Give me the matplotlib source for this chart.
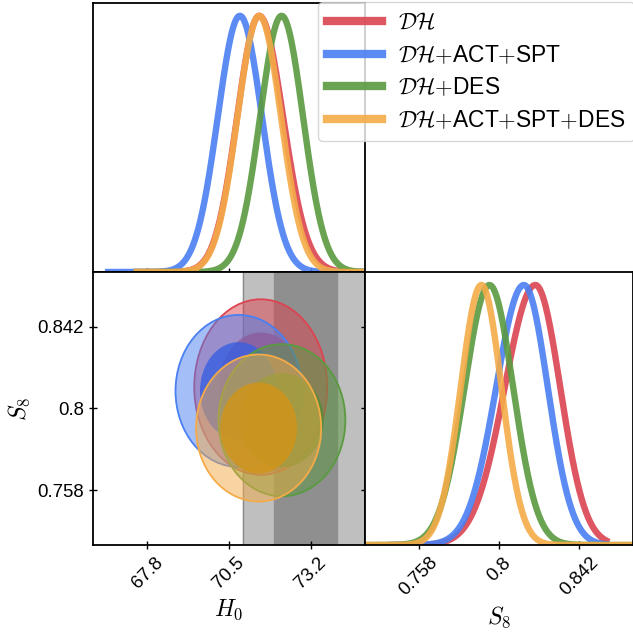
import numpy as np
import matplotlib.pyplot as plt
from matplotlib.patches import Ellipse
from matplotlib.lines import Line2D

plt.rcParams['font.family'] = ['Liberation Sans', 'DejaVu Sans']
plt.rcParams['mathtext.fontset'] = 'cm'

# datasets
labels = [r'$\mathcal{DH}$', r'$\mathcal{DH}$$+$ACT$+$SPT', r'$\mathcal{DH}$$+$DES',
          r'$\mathcal{DH}$$+$ACT$+$SPT$+$DES']
colors = ['#db4450', '#4a7ff2', '#5a9a40', '#f4ab48']
inner_colors = ['#cf3a48', '#3a60e0', '#4e8c36', '#d29418']

# 1D marginals: peak and left/right widths, sampled range
h0_peak = [71.50, 70.86, 72.24, 71.50]
h0_sig_lo = [0.73, 0.73, 0.71, 0.72]
h0_sig_hi = [0.79, 0.73, 0.71, 0.72]
h0_lo = [67.45, 66.5, 67.45, 67.45]
h0_hi = [75.0, 75.0, 75.0, 75.0]
s8_peak = [0.819, 0.813, 0.795, 0.7908]
s8_sig_lo = [0.016, 0.0145, 0.0130, 0.0108]
s8_sig_hi = [0.013, 0.0125, 0.0124, 0.0105]
s8_lo = [0.744, 0.744, 0.730, 0.730]
s8_hi = [0.856, 0.856, 0.870, 0.870]

# 2D contours: centre, half widths of 68% and 95% regions
c_h0 = [71.55, 70.82, 72.25, 71.48]
c_s8 = [0.811, 0.809, 0.794, 0.790]
w68_h0 = [1.38, 1.28, 1.38, 1.27]
w68_s8 = [0.028, 0.025, 0.0242, 0.0233]
w95_h0 = [2.20, 2.09, 2.10, 2.07]
w95_s8 = [0.045, 0.039, 0.039, 0.0377]

# SH0ES band
shoes_h0 = 73.04
shoes_err = 1.04

h0_range = [66.0, 75.0]
s8_range = [0.730, 0.870]
h0_ticks = [67.8, 70.5, 73.2]
h0_ticklabels = ['67.8', '70.5', '73.2']
s8_ticks = [0.758, 0.8, 0.842]
s8_ticklabels = ['0.758', '0.8', '0.842']


def split_gauss(x, m, slo, shi):
    s = np.where(x < m, slo, shi)
    return np.exp(-0.5 * ((x - m) / s) ** 2)


W = 633.0
fig = plt.figure(figsize=(6.33, 6.33), dpi=100)
ax_top = fig.add_axes([93 / W, 1 - 272 / W, 272 / W, 269 / W])
ax_2d = fig.add_axes([93 / W, 1 - 545 / W, 272 / W, 273 / W])
ax_s8 = fig.add_axes([365 / W, 1 - 545 / W, 268 / W, 273 / W])

tick_kw = dict(direction='inout', length=6, width=1, labelsize=13.4)

# H0 1D
for i in range(4):
    x = np.linspace(h0_lo[i], h0_hi[i], 600)
    ax_top.plot(x, split_gauss(x, h0_peak[i], h0_sig_lo[i], h0_sig_hi[i]),
                color=colors[i], lw=4.6, alpha=0.9)
ax_top.set_xlim(h0_range)
ax_top.set_ylim(0, 1.05)
ax_top.set_xticks(h0_ticks)
ax_top.set_xticklabels([])
ax_top.set_yticks([])
ax_top.tick_params(**tick_kw)

# S8 1D
for i in range(4):
    x = np.linspace(s8_lo[i], s8_hi[i], 600)
    ax_s8.plot(x, split_gauss(x, s8_peak[i], s8_sig_lo[i], s8_sig_hi[i]),
               color=colors[i], lw=4.6, alpha=0.9)
ax_s8.set_xlim(s8_range)
ax_s8.set_ylim(0, 1.05)
ax_s8.set_xticks(s8_ticks)
ax_s8.set_xticklabels(s8_ticklabels, rotation=45, ha='center', va='top')
ax_s8.set_yticks([])
ax_s8.tick_params(**tick_kw)
ax_s8.set_xlabel(r'$S_8$', fontsize=17)

# 2D panel
ax_2d.axvspan(shoes_h0 - 2 * shoes_err, shoes_h0 + 2 * shoes_err,
              color='#bfbfbf', zorder=0)
ax_2d.axvline(shoes_h0 - 2 * shoes_err, color='#8a8a8a', lw=1, zorder=0)
ax_2d.axvspan(shoes_h0 - shoes_err, shoes_h0 + shoes_err, color='#8f8f8f', zorder=0)
for i in range(4):
    ax_2d.add_patch(Ellipse((c_h0[i], c_s8[i]), 2 * w95_h0[i], 2 * w95_s8[i],
                            facecolor=colors[i], alpha=0.5, edgecolor='none', zorder=2 + i))
    ax_2d.add_patch(Ellipse((c_h0[i], c_s8[i]), 2 * w95_h0[i], 2 * w95_s8[i],
                            facecolor='none', edgecolor=colors[i], lw=1.3, zorder=2 + i))
    ax_2d.add_patch(Ellipse((c_h0[i], c_s8[i]), 2 * w68_h0[i], 2 * w68_s8[i],
                            facecolor=inner_colors[i], alpha=0.82, edgecolor='none',
                            zorder=2 + i))
ax_2d.set_xlim(h0_range)
ax_2d.set_ylim(s8_range)
ax_2d.set_xticks(h0_ticks)
ax_2d.set_xticklabels(h0_ticklabels, rotation=45, ha='center', va='top')
ax_2d.set_yticks(s8_ticks)
ax_2d.set_yticklabels(s8_ticklabels)
ax_2d.tick_params(right=True, **tick_kw)
ax_2d.set_xlabel(r'$H_0$', fontsize=17)
ax_2d.set_ylabel(r'$S_8$', fontsize=17)

for ax in (ax_top, ax_2d, ax_s8):
    for sp in ax.spines.values():
        sp.set_linewidth(1.3)

handles = [Line2D([], [], color=c, lw=6, alpha=0.9) for c in colors]
fig.legend(handles, labels, loc='upper left', bbox_to_anchor=(318 / W, 1 - 2 / W),
           borderaxespad=0, fontsize=16.4, handlelength=2.4, handletextpad=0.7,
           labelspacing=0.42)

fig.savefig('out.png', dpi=100)
